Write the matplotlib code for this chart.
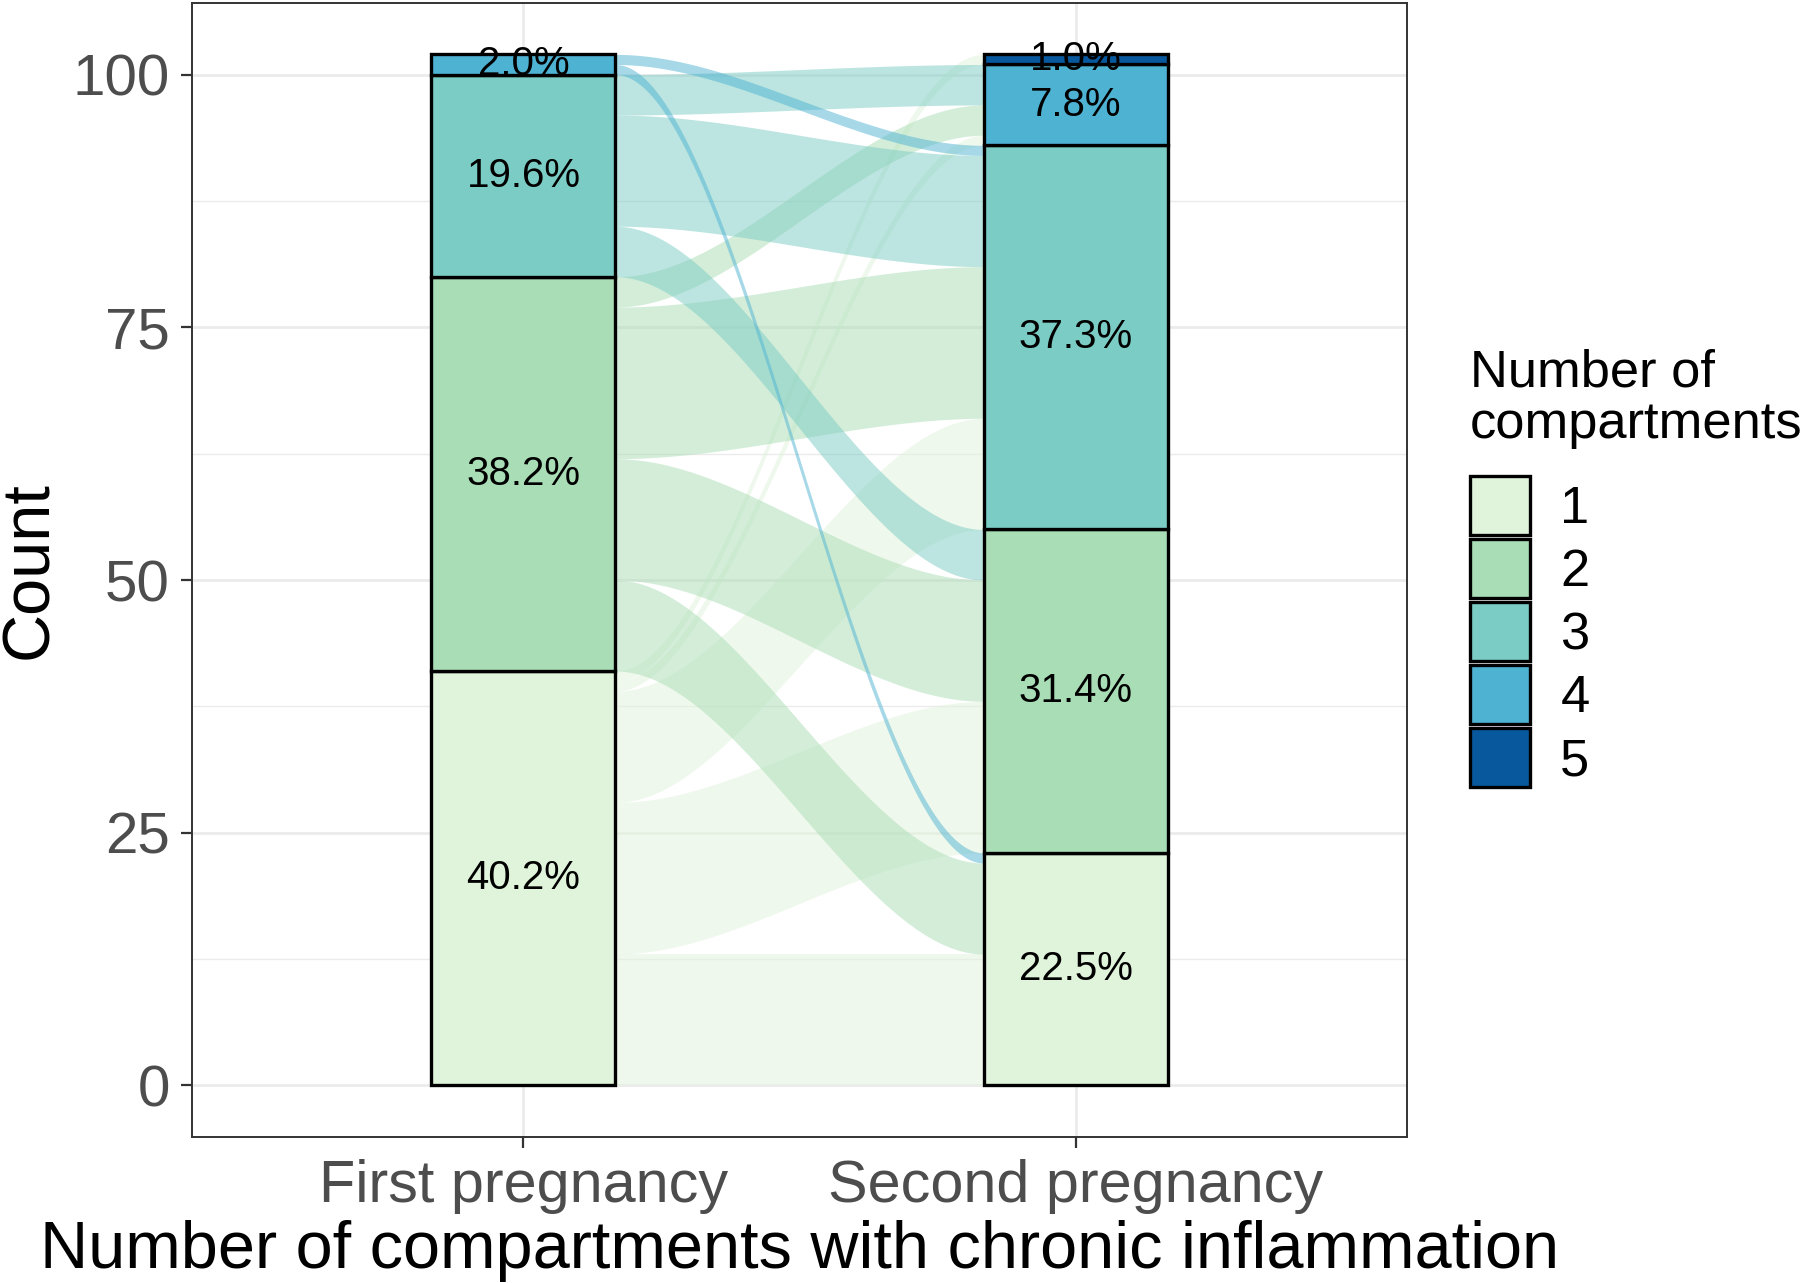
# Alluvial plot: number of compartments with chronic inflammation,
# first vs second pregnancy

import matplotlib.pyplot as plt
import numpy as np
from matplotlib.patches import Patch

plt.rcParams['font.family'] = ['Liberation Sans', 'DejaVu Sans']


# Data:
levels = ["1", "2", "3", "4", "5"]
axis_names = ["First pregnancy", "Second pregnancy"]
colors = ["#E0F3DB", "#A8DDB5", "#7BCCC4", "#4EB3D3", "#08589E"]

# cases going from i compartments (first) to 1..5 compartments (second)
flow_from_1 = [13, 15, 11, 1, 1]
flow_from_2 = [9, 12, 15, 3, 0]
flow_from_3 = [0, 5, 11, 4, 0]
flow_from_4 = [1, 0, 1, 0, 0]
flow_from_5 = [0, 0, 0, 0, 0]

flows = np.array([flow_from_1, flow_from_2, flow_from_3, flow_from_4, flow_from_5])
first = flows.sum(axis=1)
second = flows.sum(axis=0)
total = first.sum()

first_bottom = np.concatenate([[0], np.cumsum(first)[:-1]])
second_bottom = np.concatenate([[0], np.cumsum(second)[:-1]])

width = 1/3
x_first, x_second = 1, 2


fig = plt.figure(figsize=(9, 6.415), dpi=200)
ax = fig.add_axes([0.1067, 0.1138, 0.675, 0.884])

# Flows (coloured by first pregnancy stratum):
t = np.linspace(0, 1, 120)
s = t * t * (3 - 2 * t)
xs = (x_first + width / 2) + ((x_second - width / 2) - (x_first + width / 2)) * t
for i in range(5):
    for j in range(5):
        c = flows[i, j]
        if c == 0:
            continue
        yl = first_bottom[i] + flows[i, :j].sum()
        yr = second_bottom[j] + flows[:i, j].sum()
        low = yl + (yr - yl) * s
        ax.fill_between(xs, low, low + c, color=colors[i], alpha=0.5, lw=0, zorder=2)

# Strata:
for x, counts, bottoms in [(x_first, first, first_bottom), (x_second, second, second_bottom)]:
    for k in range(5):
        if counts[k] == 0:
            continue
        ax.bar(x, counts[k], bottom=bottoms[k], width=width, color=colors[k],
               edgecolor='black', linewidth=1.2, zorder=3)
        ax.text(x, bottoms[k] + counts[k] / 2, "%.1f%%" % (100 * counts[k] / total),
                ha='center', va='center', fontsize=14.5, color='black', zorder=4)

# Axes:
ax.set_xlim(0.4, 2.6)
ax.set_ylim(-5.1, 107.1)
ax.set_xticks([x_first, x_second])
ax.set_xticklabels(axis_names)
ax.set_yticks([0, 25, 50, 75, 100])
ax.set_yticks([12.5, 37.5, 62.5, 87.5], minor=True)
ax.tick_params(which='major', length=4, width=0.8, color='#333333',
               labelsize=21, labelcolor='#4D4D4D', pad=4)
ax.tick_params(axis='x', labelsize=21.4)
ax.tick_params(which='minor', length=0)
ax.grid(which='major', color='#EBEBEB', linewidth=1.0, zorder=0)
ax.grid(which='minor', axis='y', color='#EBEBEB', linewidth=0.5, zorder=0)
ax.set_axisbelow(True)
for sp in ax.spines.values():
    sp.set_color('#333333')
    sp.set_linewidth(0.7)

ax.set_xlabel("Number of compartments with chronic inflammation", fontsize=24, labelpad=2)
ax.set_ylabel("Count", fontsize=24, labelpad=4)

# Legend:
fig.text(0.8167, 0.728, "Number of\ncompartments", fontsize=18.9, ha='left', va='top',
         linespacing=1.05)
handles = [Patch(facecolor=colors[k], edgecolor='black', linewidth=1.2, label=levels[k])
           for k in range(5)]
leg = fig.legend(handles=handles, loc='upper left', bbox_to_anchor=(0.8167, 0.629),
                 frameon=False, fontsize=18.9, handlelength=1.14, handleheight=1.34,
                 labelspacing=0.086, handletextpad=0.58, borderpad=0, borderaxespad=0)

plt.savefig("out.png", dpi=200)
